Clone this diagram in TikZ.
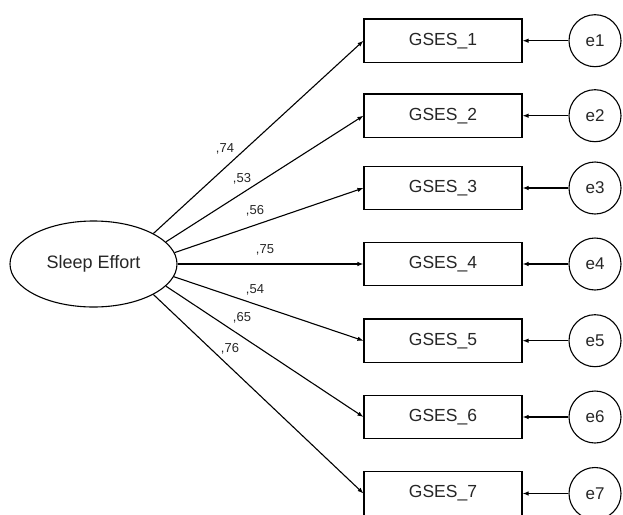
\documentclass[tikz,border=0pt]{standalone}
\usepackage{fontspec}
\setmainfont{Liberation Sans}
\usetikzlibrary{shapes.geometric,arrows.meta}
\begin{document}
\begin{tikzpicture}[x=1pt,y=-1pt,
  obs/.style={draw,line width=1.1pt,minimum width=158pt,minimum height=43.5pt,inner sep=0pt,font=\fontsize{17.5}{20}\selectfont,text=black!85},
  lat/.style={draw,ellipse,line width=1.1pt,minimum width=167pt,minimum height=86pt,inner sep=0pt,font=\fontsize{18}{20}\selectfont,text=black!85},
  err/.style={draw,circle,line width=1.1pt,minimum size=52pt,inner sep=0pt,font=\fontsize{17}{20}\selectfont,text=black!85},
  wt/.style={font=\fontsize{13}{15}\selectfont,text=black!85,inner sep=0pt},
  path/.style={line width=1.1pt,-{Latex[length=6pt,width=4.5pt]}}]
\useasboundingbox (0,0) rectangle (623,514);
\node[lat] (se) at (93.5,264) {Sleep Effort};
\foreach \i/\y in {1/40.7,2/115.7,3/188,4/264,5/340.7,6/417,7/493.5}{
  \node[obs] (g\i) at (443,\y) {GSES\_\i};
  \node[err] (e\i) at (595,\y) {e\i};
  \draw[path] (e\i) -- (g\i);
}
\draw[path] (se.27.5) -- (g1.west);
\draw[path] (se.17.9) -- (g2.west);
\draw[path] (se.8.6) -- (g3.west);
\draw[path] (se.0) -- (g4.west);
\draw[path] (se.-9) -- (g5.west);
\draw[path] (se.-17.5) -- (g6.west);
\draw[path] (se.-27.5) -- (g7.west);
\node[wt] (w1) at (225,149) {,74};
\node[wt] (w2) at (242,179) {,53};
\node[wt] (w3) at (255,211) {,56};
\node[wt] (w4) at (265,250) {,75};
\node[wt] (w5) at (255,290) {,54};
\node[wt] (w6) at (242,318) {,65};
\node[wt] (w7) at (230,349) {,76};
\end{tikzpicture}
\end{document}
